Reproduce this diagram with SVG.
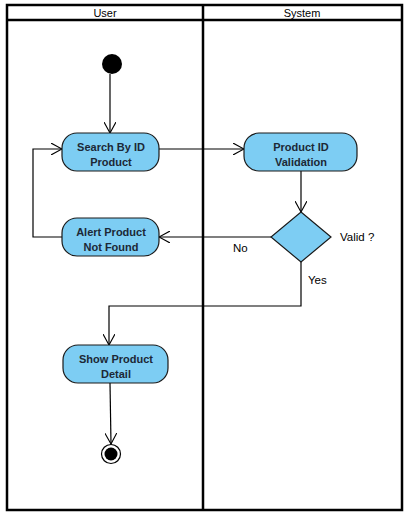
<svg xmlns="http://www.w3.org/2000/svg" width="409" height="519" viewBox="0 0 409 519">
<style>
.lane{fill:none;stroke:#000;stroke-width:2.5}
.hdr{font-family:"Liberation Sans",Arial,sans-serif;font-size:11px;fill:#000;text-anchor:middle}
.act{fill:#7dcdf3;stroke:#1a1a1a;stroke-width:1.2}
.lbl{font-family:"Liberation Sans",Arial,sans-serif;font-size:11px;font-weight:bold;fill:#1c2836;text-anchor:middle}
.edge{fill:none;stroke:#000;stroke-width:1.2}
.guard{font-family:"Liberation Sans",Arial,sans-serif;font-size:11.5px;fill:#000}
</style>
<defs>
<marker id="open" viewBox="0 0 12 12" refX="11" refY="6" markerWidth="12" markerHeight="12" markerUnits="userSpaceOnUse" orient="auto">
<path d="M0,0 L11,6 L0,12" fill="none" stroke="#000" stroke-width="1.1"/>
</marker>
</defs>
<rect width="409" height="519" fill="#fff"/>
<g id="swimlanes">
<rect class="lane" x="7" y="5" width="395" height="505"/>
<line class="lane" x1="7" y1="20" x2="402" y2="20" stroke-width="2"/>
<line class="lane" x1="203" y1="5" x2="203" y2="510" stroke-width="3"/>
<text class="hdr" x="105" y="17">User</text>
<text class="hdr" x="302" y="17">System</text>
</g>
<g id="connectors">
<line class="edge" x1="110" y1="74" x2="110" y2="133" marker-end="url(#open)"/>
<line class="edge" x1="159" y1="149" x2="244" y2="149" marker-end="url(#open)"/>
<line class="edge" x1="301" y1="171" x2="301" y2="212" marker-end="url(#open)"/>
<line class="edge" x1="272" y1="237" x2="159" y2="237" marker-end="url(#open)"/>
<polyline class="edge" points="62,237 33,237 33,149 62,149" marker-end="url(#open)"/>
<polyline class="edge" points="301,262 301,306 109,306 109,345" marker-end="url(#open)"/>
<line class="edge" x1="110" y1="383" x2="111" y2="444" marker-end="url(#open)"/>
<text class="guard" x="233" y="252">No</text>
<text class="guard" x="340" y="241">Valid ?</text>
<text class="guard" x="308" y="284">Yes</text>
</g>
<g id="start">
<circle cx="112" cy="64" r="10" fill="#000"/>
</g>
<g id="search">
<rect class="act" x="62" y="133" width="97" height="38" rx="15"/>
<text class="lbl" x="111" y="150.5">Search By ID</text>
<text class="lbl" x="111" y="165.5">Product</text>
</g>
<g id="validation">
<rect class="act" x="244" y="133" width="113" height="38" rx="15"/>
<text class="lbl" x="301" y="150.5">Product ID</text>
<text class="lbl" x="301" y="165.5">Validation</text>
</g>
<g id="decision">
<polygon class="act" points="301,212 331,237 301,262 271,237"/>
</g>
<g id="alert">
<rect class="act" x="62" y="218" width="97" height="38" rx="15"/>
<text class="lbl" x="111" y="235.5">Alert Product</text>
<text class="lbl" x="111" y="250.5">Not Found</text>
</g>
<g id="show">
<rect class="act" x="63" y="345" width="105" height="38" rx="15"/>
<text class="lbl" x="116" y="362.5">Show Product</text>
<text class="lbl" x="116" y="377.5">Detail</text>
</g>
<g id="end">
<circle cx="111" cy="454" r="9.5" fill="#fff" stroke="#000" stroke-width="1.2"/>
<circle cx="111" cy="454" r="6.5" fill="#000"/>
</g>
</svg>
